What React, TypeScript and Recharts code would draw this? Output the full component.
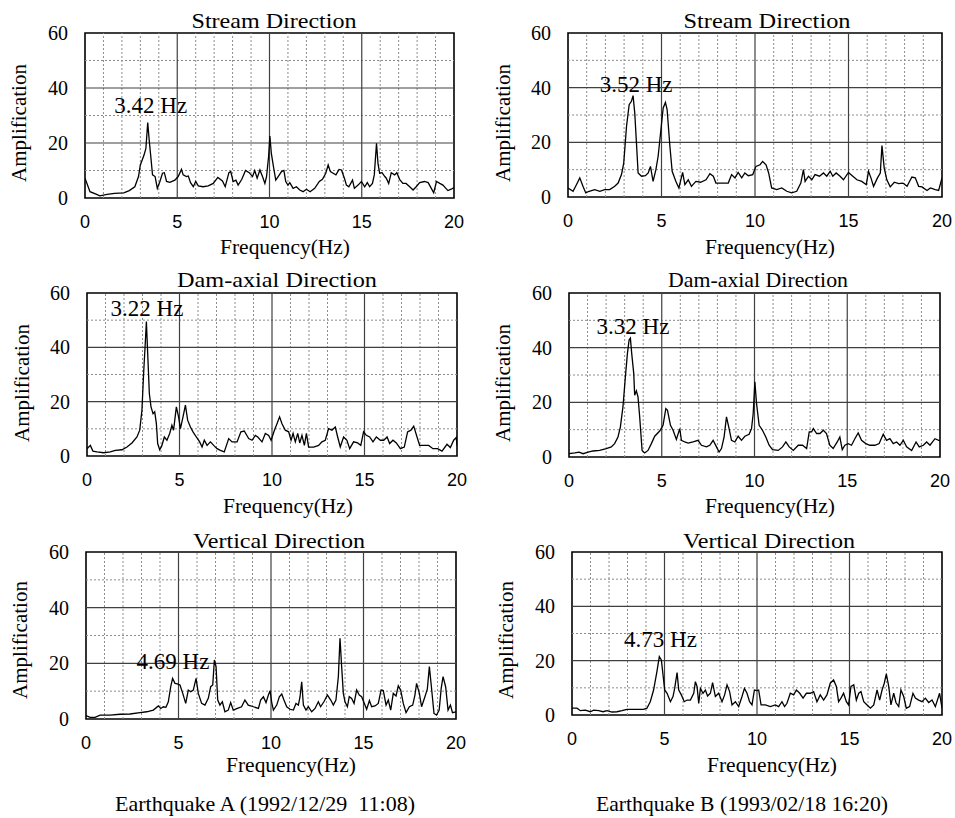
import React from 'react';
import { LineChart, Line, XAxis, YAxis, ReferenceLine, ReferenceArea, ReferenceDot } from 'recharts';

type Pt = [number, number];

// [frequency (Hz), amplification]
const streamA: Pt[] = [
  [0, 7.2], [0.27, 2.3], [0.63, 1.3], [0.8, 0.8], [1.2, 1.3], [1.6, 1.7], [2.1, 1.9], [2.4, 2.7], [2.7, 4.1],
  [2.9, 7.8], [3.0, 12], [3.2, 15.6], [3.3, 18], [3.4, 27.4], [3.48, 21], [3.55, 16.2], [3.66, 8.4], [3.8, 7.8],
  [3.92, 3.5], [4.06, 6], [4.2, 9], [4.3, 9.2], [4.42, 6], [4.6, 5.7], [4.87, 6.5], [5.05, 7.8], [5.23, 10.4],
  [5.32, 8.4], [5.5, 7.8], [5.6, 8], [5.72, 5.6], [5.87, 4.1], [6.0, 6], [6.14, 4.4], [6.4, 4.1], [6.68, 4.4],
  [6.95, 5.3], [7.2, 7.5], [7.45, 6.2], [7.6, 4.1], [7.8, 9.2], [7.9, 9.6], [8.03, 6], [8.18, 6.5], [8.3, 4.7],
  [8.5, 6.8], [8.7, 10], [8.9, 9.2], [9.08, 7.8], [9.2, 10], [9.33, 7.2], [9.48, 10.2], [9.62, 7.8], [9.75, 5.3],
  [9.84, 7.8], [9.95, 15], [10.02, 22.5], [10.1, 16.2], [10.23, 10.8], [10.34, 6.5], [10.47, 7.8], [10.65, 9.6],
  [10.78, 10], [10.88, 6], [11.0, 4.7], [11.1, 5.6], [11.28, 3.5], [11.46, 4.1], [11.64, 2.9], [11.82, 2.3],
  [12.0, 3.2], [12.2, 2.3], [12.45, 3.5], [12.7, 6], [12.87, 6.8], [13.05, 9], [13.18, 12], [13.3, 9.6],
  [13.45, 9], [13.6, 8.4], [13.77, 10.4], [13.9, 10.2], [14.06, 7.2], [14.17, 4.7], [14.3, 4.1], [14.5, 6.5],
  [14.6, 3.5], [14.8, 4.7], [14.98, 6], [15.16, 4.1], [15.3, 5.6], [15.43, 4.1], [15.58, 5.3], [15.68, 8.4],
  [15.8, 19.9], [15.88, 12.6], [15.97, 9], [16.1, 9.2], [16.25, 7.8], [16.33, 7.2], [16.46, 5.3], [16.6, 9.2],
  [16.78, 8.4], [16.9, 9.2], [17.05, 6.8], [17.23, 5.3], [17.4, 5.3], [17.6, 4.1], [17.78, 2.9], [17.95, 4.1],
  [18.14, 5.6], [18.4, 6], [18.6, 5.6], [18.77, 3.5], [18.9, 1.9], [19.05, 6], [19.23, 5.3], [19.4, 4.7],
  [19.67, 2.7], [19.85, 3.2], [20, 3.8],
];

const streamB: Pt[] = [
  [0, 3.3], [0.27, 2.1], [0.45, 4.5], [0.63, 7], [0.8, 3.9], [0.95, 1.5], [1.13, 2.1], [1.43, 2.7], [1.7, 2.1],
  [1.96, 2.7], [2.23, 2.7], [2.5, 3.9], [2.68, 5.1], [2.86, 8.2], [2.98, 12.4], [3.13, 25.9], [3.27, 33.8],
  [3.39, 35], [3.48, 37.1], [3.57, 30.7], [3.66, 19.8], [3.75, 8.8], [3.93, 7.6], [4.14, 7.8], [4.29, 8.8],
  [4.41, 11.2], [4.55, 5.7], [4.7, 10], [4.82, 14.9], [4.95, 23.4], [5.09, 32.6], [5.21, 34.6], [5.3, 32],
  [5.45, 18.5], [5.57, 9.4], [5.77, 5.7], [5.93, 3.3], [6.13, 9], [6.25, 4.5], [6.43, 6.3], [6.6, 3.9],
  [6.84, 5.7], [7.09, 5.4], [7.38, 6.3], [7.59, 8.5], [7.77, 7.6], [7.91, 5.1], [8.21, 5.1], [8.57, 5.1],
  [8.75, 8.2], [8.93, 7], [9.1, 9], [9.29, 7], [9.46, 8.8], [9.64, 7.8], [9.88, 8.2], [10.05, 11.2],
  [10.27, 11.8], [10.41, 13], [10.59, 11.8], [10.73, 8.8], [10.89, 3.3], [11.16, 2.7], [11.43, 3.3],
  [11.7, 2.1], [11.96, 1.5], [12.23, 2.1], [12.45, 5.1], [12.59, 10], [12.68, 5.7], [12.86, 7.6], [13.04, 6.3],
  [13.21, 8.2], [13.45, 7.6], [13.66, 8.8], [13.84, 7.6], [14.02, 9.4], [14.16, 7.6], [14.34, 8.8], [14.55, 7.6],
  [14.73, 6.3], [15.0, 9], [15.23, 7.6], [15.45, 6.3], [15.71, 5.7], [15.95, 4.5], [16.07, 9.4], [16.2, 7],
  [16.34, 3.9], [16.55, 7], [16.7, 8.8], [16.79, 18.8], [16.91, 10.6], [17.05, 6.3], [17.23, 3.7], [17.45, 5.4],
  [17.68, 4.9], [17.91, 5.1], [18.13, 3.9], [18.39, 7.3], [18.57, 7], [18.75, 3.9], [18.93, 3.7], [19.2, 2.4],
  [19.38, 3.3], [19.64, 2.7], [19.82, 2.4], [20, 7],
];

const damA: Pt[] = [
  [0, 2.7], [0.18, 3.9], [0.32, 1.8], [0.54, 1.5], [0.9, 1.2], [1.26, 1.5], [1.53, 2.1], [1.89, 2.3], [2.16, 3.3],
  [2.43, 4.8], [2.7, 7], [2.85, 9.5], [2.97, 16.9], [3.06, 30.4], [3.15, 41.5], [3.21, 49.5], [3.28, 37.8],
  [3.37, 23], [3.46, 18.1], [3.57, 15.6], [3.66, 16.3], [3.75, 11.9], [3.82, 4.6], [3.93, 2.3], [4.05, 3.9],
  [4.18, 7], [4.32, 5.8], [4.47, 8.3], [4.59, 11.3], [4.68, 9.5], [4.83, 18.1], [4.95, 14.4], [5.05, 10.1],
  [5.19, 14.4], [5.32, 18.7], [5.44, 13.2], [5.59, 10.7], [5.73, 8.9], [5.91, 7], [6.09, 5.2], [6.22, 3.3],
  [6.34, 5.8], [6.49, 3.9], [6.67, 5.2], [6.85, 3.9], [7.03, 2.7], [7.21, 2.1], [7.42, 1.5], [7.66, 6.4],
  [7.84, 5.2], [8.11, 5.2], [8.32, 8.9], [8.5, 9.2], [8.74, 6.4], [8.92, 5.8], [9.1, 7.6], [9.23, 7],
  [9.46, 5.2], [9.64, 8.3], [9.82, 7.6], [9.95, 5.8], [10.13, 9.5], [10.27, 11.9], [10.41, 14.4], [10.54, 11.9],
  [10.72, 9.5], [10.9, 8.9], [11.03, 5.8], [11.14, 8.3], [11.26, 5.2], [11.39, 8.3], [11.5, 4.8], [11.62, 7.6],
  [11.75, 3.9], [11.86, 8.3], [11.98, 3.3], [12.25, 3.3], [12.52, 3.9], [12.7, 5.2], [12.88, 5.8], [13.06, 10.1],
  [13.24, 9.5], [13.42, 10.7], [13.55, 7], [13.69, 3.3], [13.87, 7], [14.05, 5.8], [14.2, 2.7], [14.41, 5.2],
  [14.63, 4.8], [14.8, 3.9], [14.95, 8.9], [15.1, 7.6], [15.28, 7], [15.46, 5.2], [15.64, 7], [15.86, 5.8],
  [16.04, 5.8], [16.22, 7], [16.36, 4.6], [16.54, 5.8], [16.72, 4.8], [16.94, 2.7], [17.15, 3.3], [17.33, 8.9],
  [17.51, 9.5], [17.66, 11], [17.84, 7], [17.98, 3.9], [18.2, 3.9], [18.47, 3.9], [18.7, 2.7], [18.95, 2.7],
  [19.19, 1.8], [19.46, 4.3], [19.64, 3.1], [19.82, 5.8], [19.96, 6.8], [20, 3.9],
];

const damB: Pt[] = [
  [0, 1.2], [0.31, 1.5], [0.54, 1.8], [0.76, 1.2], [1.03, 1.8], [1.29, 2.2], [1.65, 2.4], [2.01, 3.1], [2.28, 3.7],
  [2.46, 4.9], [2.64, 7.3], [2.77, 11], [2.91, 18.4], [3.04, 29.4], [3.15, 37.9], [3.24, 42.8], [3.31, 43.5],
  [3.38, 37.9], [3.49, 30.6], [3.54, 22.6], [3.63, 24.2], [3.72, 22], [3.81, 14.7], [3.94, 2.4], [4.08, 1.5],
  [4.26, 2.4], [4.44, 4.9], [4.62, 7.6], [4.89, 9.5], [5.07, 11.6], [5.22, 17.7], [5.31, 17.1], [5.47, 11.6],
  [5.61, 9.8], [5.79, 6.4], [5.97, 10.4], [6.06, 6.1], [6.24, 5.5], [6.42, 5.1], [6.69, 5.5], [6.96, 6.1],
  [7.14, 4.3], [7.41, 3.7], [7.59, 4.3], [7.77, 6.1], [7.95, 3.7], [8.09, 1.8], [8.22, 3.1], [8.36, 7.3],
  [8.49, 14.7], [8.63, 10.4], [8.76, 6.1], [8.94, 5.5], [9.12, 7.6], [9.3, 6.1], [9.48, 7.6], [9.71, 8.3],
  [9.84, 10.4], [9.93, 15.9], [10.02, 27.5], [10.11, 19.6], [10.25, 11.6], [10.43, 9.8], [10.61, 7.3],
  [10.79, 4.3], [10.97, 2.7], [11.28, 2.4], [11.51, 3.7], [11.69, 5.5], [11.87, 3.7], [12.09, 2.4], [12.36, 4.3],
  [12.59, 4.3], [12.81, 3.1], [12.95, 9.2], [13.08, 9.2], [13.17, 10.4], [13.35, 8.6], [13.53, 8.6], [13.71, 9.8],
  [13.88, 8.6], [14.06, 4.3], [14.24, 3.1], [14.46, 5.5], [14.6, 7.3], [14.73, 2.7], [14.87, 4.3], [15.05, 4.9],
  [15.23, 4.3], [15.41, 6.7], [15.59, 8.8], [15.77, 6.1], [16.0, 4.9], [16.22, 4.3], [16.49, 4.3], [16.72, 4.9],
  [16.94, 8.3], [17.12, 6.1], [17.3, 6.7], [17.48, 4.9], [17.66, 5.5], [17.84, 4.3], [18.02, 6.1], [18.2, 3.7],
  [18.47, 2.4], [18.71, 5.5], [18.88, 3.7], [19.1, 4.3], [19.28, 5.5], [19.46, 4.3], [19.73, 6.7], [20, 5.9],
];

const vertA: Pt[] = [
  [0, 1.2], [0.22, 0.6], [0.49, 0.6], [0.76, 1.4], [1.3, 1.4], [1.84, 1.7], [2.38, 1.8], [2.92, 2.3], [3.28, 2.6],
  [3.64, 3.2], [3.91, 4.7], [4.04, 3.8], [4.18, 4.4], [4.32, 4.2], [4.45, 6.2], [4.58, 11.6], [4.68, 14.6],
  [4.81, 12.8], [4.94, 12.6], [5.08, 12.2], [5.23, 9.2], [5.39, 5.6], [5.53, 10.4], [5.66, 9.8], [5.8, 10.4],
  [5.95, 14.6], [6.07, 9.2], [6.25, 5.6], [6.43, 5], [6.61, 7.4], [6.74, 11.6], [6.85, 12.2], [6.94, 21.2],
  [7.03, 18.8], [7.12, 6.8], [7.24, 5], [7.37, 6.2], [7.51, 2.6], [7.69, 3.2], [7.82, 5.9], [7.96, 3.2],
  [8.18, 3.8], [8.41, 4.4], [8.59, 6.8], [8.77, 5], [9.05, 4.4], [9.32, 3.8], [9.44, 6.8], [9.59, 8], [9.73, 5.9],
  [9.86, 8.6], [9.95, 10.2], [10.04, 5.9], [10.13, 3.2], [10.31, 5], [10.45, 8], [10.58, 9], [10.7, 6.8],
  [10.85, 4.4], [11.03, 3.5], [11.21, 3.2], [11.35, 5.6], [11.48, 5], [11.57, 8], [11.66, 13.4], [11.75, 5],
  [11.89, 3.2], [12.02, 4.4], [12.2, 2.6], [12.38, 3.8], [12.56, 6.2], [12.68, 4.4], [12.86, 6.2], [13.05, 8.6],
  [13.23, 6.8], [13.37, 5], [13.51, 6.8], [13.64, 15.2], [13.73, 29], [13.82, 18.8], [13.91, 9.2], [14.0, 6.2],
  [14.13, 4.4], [14.23, 8], [14.36, 7.4], [14.49, 5.6], [14.63, 10.4], [14.77, 8.6], [14.9, 8], [15.08, 5],
  [15.17, 3.5], [15.32, 6.6], [15.44, 4.4], [15.62, 4.7], [15.8, 5.6], [15.95, 10.4], [16.07, 10.2], [16.22, 5],
  [16.34, 6.8], [16.47, 3.2], [16.61, 9.2], [16.76, 8.3], [16.88, 11.9], [17.01, 10.4], [17.15, 5.6],
  [17.3, 2.3], [17.48, 4.4], [17.66, 5], [17.78, 8.6], [17.87, 12.8], [18.02, 9.2], [18.14, 4.4], [18.32, 8],
  [18.45, 10.7], [18.56, 18.8], [18.67, 11.6], [18.81, 2], [18.95, 1.4], [19.09, 3.2], [19.2, 11], [19.3, 15.2],
  [19.44, 11.6], [19.57, 3.2], [19.7, 5], [19.81, 2.3], [20, 2.6],
];

const vertB: Pt[] = [
  [0, 2.5], [0.27, 2.5], [0.45, 1.6], [0.72, 1.8], [0.99, 1.2], [1.17, 1.8], [1.44, 1.6], [1.68, 1.2], [1.89, 1.6],
  [2.16, 1.1], [2.43, 1.2], [2.7, 1.6], [2.97, 2.1], [3.24, 2.1], [3.51, 2.1], [3.87, 2.1], [4.05, 2.5],
  [4.23, 4.9], [4.41, 9.2], [4.59, 16], [4.72, 21.5], [4.83, 20.3], [4.92, 14.8], [5.01, 9.2], [5.14, 8],
  [5.32, 4.9], [5.46, 6.8], [5.55, 9.8], [5.68, 15.6], [5.77, 9.2], [5.91, 7.4], [6.07, 4.9], [6.22, 5.5],
  [6.4, 5.5], [6.58, 8], [6.67, 12.3], [6.76, 10.5], [6.85, 4.3], [6.94, 9.8], [7.08, 8], [7.21, 9.2], [7.33, 7],
  [7.48, 8], [7.6, 11.9], [7.75, 6.8], [7.93, 8], [8.11, 4.9], [8.25, 7.4], [8.38, 11.1], [8.52, 8.6],
  [8.65, 3.7], [8.83, 4.9], [9.01, 3.1], [9.19, 6.8], [9.32, 9.8], [9.46, 8], [9.6, 4.9], [9.73, 3.7],
  [9.86, 9.2], [10.0, 9], [10.09, 9.2], [10.22, 3.7], [10.45, 3.7], [10.72, 3.1], [10.99, 3.7], [11.17, 3.1],
  [11.35, 4.9], [11.49, 3.1], [11.62, 4.3], [11.8, 8], [11.98, 7.4], [12.13, 9.2], [12.31, 8], [12.49, 6.2],
  [12.67, 8], [12.88, 8], [13.06, 8.6], [13.24, 4.9], [13.42, 7.4], [13.6, 5.5], [13.78, 7.4], [13.96, 11.7],
  [14.14, 12.9], [14.29, 10.5], [14.41, 4.9], [14.54, 6.2], [14.68, 8], [14.83, 4.9], [14.95, 3.7],
  [15.08, 10.5], [15.23, 11.1], [15.37, 5.5], [15.5, 8], [15.62, 8.6], [15.77, 4.9], [15.95, 3.7], [16.13, 2.5],
  [16.31, 3.7], [16.49, 9.2], [16.63, 5.5], [16.76, 9.2], [16.88, 11.7], [16.99, 15.1], [17.12, 10.5],
  [17.24, 3.7], [17.39, 8], [17.51, 4.6], [17.66, 3.1], [17.78, 9.2], [17.93, 6.8], [18.07, 2.5], [18.25, 3.1],
  [18.43, 8], [18.56, 6.2], [18.74, 5.5], [18.92, 4.9], [19.1, 6.2], [19.28, 4.6], [19.46, 5.5], [19.64, 3.1],
  [19.87, 8], [20, 2.5],
];

// peak annotations: [frequency, amplification at label centre]
const peakText = ['3.42 Hz', '3.52 Hz', '3.22 Hz', '3.32 Hz', '4.69 Hz', '4.73 Hz'];
const peakPos: Pt[] = [[3.56, 33.8], [3.64, 41.3], [3.24, 54.7], [3.45, 48.1], [4.7, 20.8], [4.78, 28.2]];

const titles = ['Stream Direction', 'Stream Direction', 'Dam-axial Direction', 'Dam-axial Direction', 'Vertical Direction', 'Vertical Direction'];
const captions = ['Earthquake A (1992/12/29\u00a0\u00a011:08)', 'Earthquake B (1993/02/18 16:20)'];

const xTicks = [0, 5, 10, 15, 20];
const yTicks = [0, 20, 40, 60];
const majorX = [5, 10, 15];
const minorX = [1, 2, 3, 4, 6, 7, 8, 9, 11, 12, 13, 14, 16, 17, 18, 19];
const majorY = [20, 40];
const minorY = [10, 30, 50];

const serif = '"Liberation Serif", "Times New Roman", serif';
const sans = '"Liberation Sans", Arial, sans-serif';

// plot rectangles in page pixels + text placement
const layout = [
  { x: 85, y: 33, w: 369, h: 165, tx: 274, ty: 28, tw: 165, ax: 19, ay: 123, fx: 285, fy: 254 },
  { x: 568, y: 33, w: 374, h: 164, tx: 767, ty: 28, tw: 167, ax: 503, ay: 123, fx: 770, fy: 254 },
  { x: 87, y: 293, w: 370, h: 163, tx: 277, ty: 287, tw: 200, ax: 22, ay: 383, fx: 288, fy: 513 },
  { x: 569, y: 293, w: 371, h: 164, tx: 758, ty: 287, tw: 180, ax: 503, ay: 383, fx: 770, fy: 513 },
  { x: 86, y: 552, w: 370, h: 167, tx: 279, ty: 548, tw: 172, ax: 20, ay: 640, fx: 291, fy: 772 },
  { x: 572, y: 552, w: 370, h: 163, tx: 769, ty: 548, tw: 172, ax: 506, ay: 640, fx: 772, fy: 772 },
];
const series = [streamA, streamB, damA, damB, vertA, vertB];

const Panel = ({ idx }: { idx: number }) => {
  const L = layout[idx];
  const data = series[idx].map(([f, a]) => ({ f, a }));
  return (
    <div style={{ position: 'absolute', left: L.x - 80, top: L.y - 20 }}>
      <LineChart width={L.w + 100} height={L.h + 70} data={data} margin={{ top: 20, right: 20, bottom: 0, left: 0 }}>
        <XAxis
          type="number"
          dataKey="f"
          domain={[0, 20]}
          ticks={xTicks}
          allowDataOverflow
          height={50}
          axisLine={false}
          tickLine={false}
          tickSize={0}
          tickMargin={17}
          tick={{ fill: '#000', fontSize: 18, fontFamily: sans }}
        />
        <YAxis
          type="number"
          domain={[0, 60]}
          ticks={yTicks}
          allowDataOverflow
          width={80}
          axisLine={false}
          tickLine={false}
          tickSize={0}
          tickMargin={17}
          tick={{ fill: '#000', fontSize: 20, fontFamily: serif }}
        />
        {minorX.map((v) => (
          <ReferenceLine key={'mx' + v} x={v} stroke="#8c8c8c" strokeDasharray="2 2" strokeWidth={1} />
        ))}
        {minorY.map((v) => (
          <ReferenceLine key={'my' + v} y={v} stroke="#8c8c8c" strokeDasharray="2 2" strokeWidth={1} />
        ))}
        {majorX.map((v) => (
          <ReferenceLine key={'jx' + v} x={v} stroke="#404040" strokeWidth={1.2} />
        ))}
        {majorY.map((v) => (
          <ReferenceLine key={'jy' + v} y={v} stroke="#404040" strokeWidth={1.2} />
        ))}
        <ReferenceArea x1={0} x2={20} y1={0} y2={60} fill="none" fillOpacity={0} stroke="#000" strokeWidth={1.6} />
        <Line dataKey="a" type="linear" stroke="#000" strokeWidth={1.3} dot={false} isAnimationActive={false} />
        <ReferenceDot
          x={peakPos[idx][0]}
          y={peakPos[idx][1]}
          r={0}
          fill="none"
          stroke="none"
          label={{ value: peakText[idx], position: 'center', fill: '#000', fontSize: 23, fontFamily: serif }}
        />
      </LineChart>
    </div>
  );
};

export default function App() {
  return (
    <div style={{ position: 'absolute', left: 0, top: 0, width: 955, height: 818, background: '#fff' }}>
      {layout.map((_, i) => (
        <Panel key={i} idx={i} />
      ))}
      <svg width={955} height={818} style={{ position: 'absolute', left: 0, top: 0, pointerEvents: 'none' }}>
        {layout.map((L, i) => (
          <g key={i} fontFamily={serif} fill="#000">
            <text x={L.tx} y={L.ty} fontSize={22} textAnchor="middle" textLength={L.tw} lengthAdjust="spacingAndGlyphs">
              {titles[i]}
            </text>
            <text x={L.fx} y={L.fy} fontSize={20} textAnchor="middle" textLength={130} lengthAdjust="spacingAndGlyphs">
              Frequency(Hz)
            </text>
            <text
              x={L.ax}
              y={L.ay}
              fontSize={21}
              textAnchor="middle"
              dominantBaseline="central"
              transform={`rotate(-90 ${L.ax} ${L.ay})`}
            >
              Amplification
            </text>
          </g>
        ))}
        <text x={265} y={811} fontSize={21} fontFamily={serif} textAnchor="middle" textLength={300} lengthAdjust="spacingAndGlyphs">
          {captions[0]}
        </text>
        <text x={742} y={811} fontSize={21} fontFamily={serif} textAnchor="middle" textLength={292} lengthAdjust="spacingAndGlyphs">
          {captions[1]}
        </text>
      </svg>
    </div>
  );
}
